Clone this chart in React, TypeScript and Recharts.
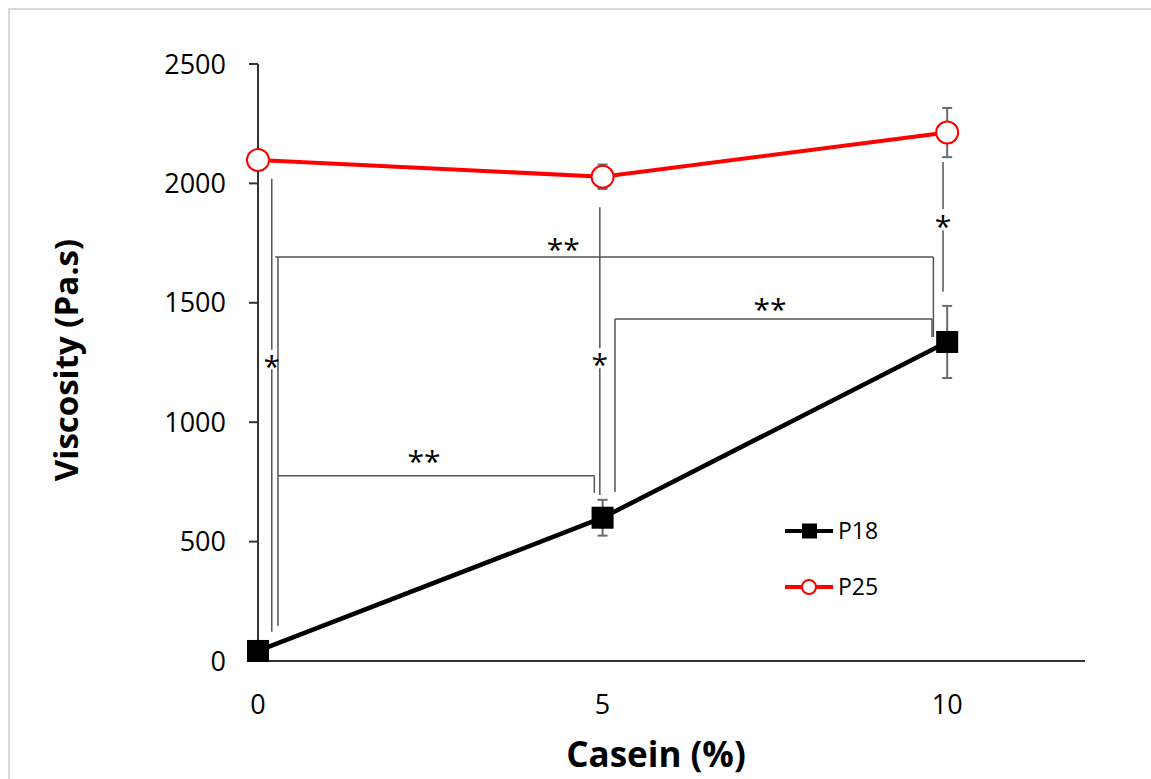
import { LineChart, Line, XAxis, YAxis, ErrorBar, ReferenceLine, ReferenceDot, Legend, Label } from 'recharts';

// Casein content (%) on the x axis
const casein = [0, 5, 10];

// Viscosity (Pa.s), mean and error
const p18 = [42, 600, 1336];
const p18Err = [10, 75, 151];
const p25 = [2098, 2028, 2213];
const p25Err = [15, 51, 103];

const xTicks = [0, 5, 10];
const yTicks = [0, 500, 1000, 1500, 2000, 2500];

// significance lines, in data units [x1, y1, x2, y2]
const sigLines = [
  [0.2, 2019, 0.2, 1303],
  [0.2, 1222, 0.2, 123],
  [4.96, 1900, 4.96, 1310],
  [4.96, 1226, 4.96, 695],
  [9.94, 2090, 9.94, 1892],
  [9.94, 1804, 9.94, 1546],
  // 0 vs 10
  [0.25, 1692, 9.8, 1692],
  [0.29, 1692, 0.29, 147],
  [9.8, 1692, 9.8, 1357],
  // 0 vs 5
  [0.29, 776, 4.88, 776],
  [4.88, 776, 4.88, 704],
  // 5 vs 10
  [5.18, 1432, 9.78, 1432],
  [5.18, 1432, 5.18, 708],
  [9.78, 1432, 9.78, 1357],
];

// significance marks: x, y, text
const sigMarks = [
  { x: 0.2, y: 1262, text: '*' },
  { x: 4.96, y: 1268, text: '*' },
  { x: 9.94, y: 1848, text: '*' },
  { x: 4.43, y: 1750, text: '**' },
  { x: 2.41, y: 863, text: '**' },
  { x: 7.43, y: 1500, text: '**' },
];

const series = [
  { key: 'p18', name: 'P18', color: '#000000' },
  { key: 'p25', name: 'P25', color: '#ff0000' },
];

const data = casein.map((c, i) => ({
  casein: c,
  p18: p18[i],
  p18Err: p18Err[i],
  p25: p25[i],
  p25Err: p25Err[i],
}));

const FONT = '"Open Sans", sans-serif';
const AXIS = '#333333';
const SIG = '#555555';

const SquareDot = (props: any) => {
  const { cx, cy, index } = props;
  if (cx == null || cy == null) return null;
  return <rect key={`sq-${index}`} x={cx - 11} y={cy - 11} width={22} height={22} fill="#000" />;
};

const StarShape = (text: string) => (props: any) => (
  <text x={props.cx} y={props.cy + 17} textAnchor="middle" fontSize={30} fontFamily={FONT} fill="#000">
    {text}
  </text>
);

const renderLegend = () => (
  <svg width={110} height={100}>
    {series.map((s, i) => {
      const y = 22 + i * 56;
      return (
        <g key={s.key}>
          <line x1={0} y1={y} x2={48} y2={y} stroke={s.color} strokeWidth={4} />
          {s.key === 'p18' ? (
            <rect x={17} y={y - 7.5} width={15} height={15} fill="#000" />
          ) : (
            <circle cx={24} cy={y} r={7} fill="#fff" stroke={s.color} strokeWidth={2} />
          )}
          <text x={53} y={y + 8} fontSize={23} fontFamily={FONT} fill="#000">
            {s.name}
          </text>
        </g>
      );
    })}
  </svg>
);

export default function App() {
  return (
    <div style={{ paddingLeft: 8, paddingTop: 8 }}>
      <style>{`body{margin:0;overflow:hidden;background:#fff}`}</style>
      <div
        style={{
          position: 'relative',
          width: 1141,
          height: 769,
          borderTop: '2px solid #d9d9d9',
          borderLeft: '2px solid #d9d9d9',
          fontFamily: FONT,
        }}
      >
        <LineChart width={1141} height={769} data={data} margin={{ top: 54, right: 66, bottom: 8, left: 0 }}>
          <XAxis
            dataKey="casein"
            type="number"
            domain={[0, 12]}
            ticks={xTicks}
            tickLine={false}
            tickSize={0}
            tickMargin={34}
            height={110}
            axisLine={{ stroke: AXIS, strokeWidth: 2 }}
            tick={{ fill: '#000', fontSize: 27, fontFamily: FONT }}
          >
            <Label
              content={() => (
                <text x={646} y={757} textAnchor="middle" fontSize={35} fontWeight="bold" fontFamily={FONT} fill="#000">
                  Casein (%)
                </text>
              )}
            />
          </XAxis>
          <YAxis
            type="number"
            domain={[0, 2500]}
            ticks={yTicks}
            width={248}
            tickSize={9}
            tickMargin={23}
            axisLine={{ stroke: AXIS, strokeWidth: 2 }}
            tickLine={{ stroke: AXIS, strokeWidth: 2 }}
            tick={{ fill: '#000', fontSize: 27, fontFamily: FONT }}
          >
            <Label
              content={() => (
                <text
                  x={68}
                  y={350}
                  transform="rotate(-90 68 350)"
                  textAnchor="middle"
                  fontSize={33}
                  fontWeight="bold"
                  fontFamily={FONT}
                  fill="#000"
                >
                  Viscosity (Pa.s)
                </text>
              )}
            />
          </YAxis>

          {sigLines.map((l, i) => (
            <ReferenceLine
              key={`sl-${i}`}
              segment={[
                { x: l[0], y: l[1] },
                { x: l[2], y: l[3] },
              ]}
              stroke={SIG}
              strokeWidth={1.5}
              ifOverflow="visible"
            />
          ))}
          {sigMarks.map((m, i) => (
            <ReferenceDot key={`sm-${i}`} x={m.x} y={m.y} r={0} ifOverflow="visible" shape={StarShape(m.text)} />
          ))}

          <Line
            dataKey="p25"
            name="P25"
            stroke="#ff0000"
            strokeWidth={4}
            dot={{ r: 11, fill: '#fff', stroke: '#ff0000', strokeWidth: 2 }}
            activeDot={false}
            isAnimationActive={false}
          >
            <ErrorBar dataKey="p25Err" direction="y" width={5} stroke="#6b6b6b" strokeWidth={2} />
          </Line>
          <Line
            dataKey="p18"
            name="P18"
            stroke="#000000"
            strokeWidth={4.5}
            dot={SquareDot}
            activeDot={false}
            isAnimationActive={false}
          >
            <ErrorBar dataKey="p18Err" direction="y" width={5} stroke="#6b6b6b" strokeWidth={2} />
          </Line>

          <Legend
            layout="vertical"
            align="center"
            verticalAlign="middle"
            content={renderLegend}
            wrapperStyle={{ left: 775, top: 499, width: 110, height: 100 }}
          />
        </LineChart>
      </div>
    </div>
  );
}
